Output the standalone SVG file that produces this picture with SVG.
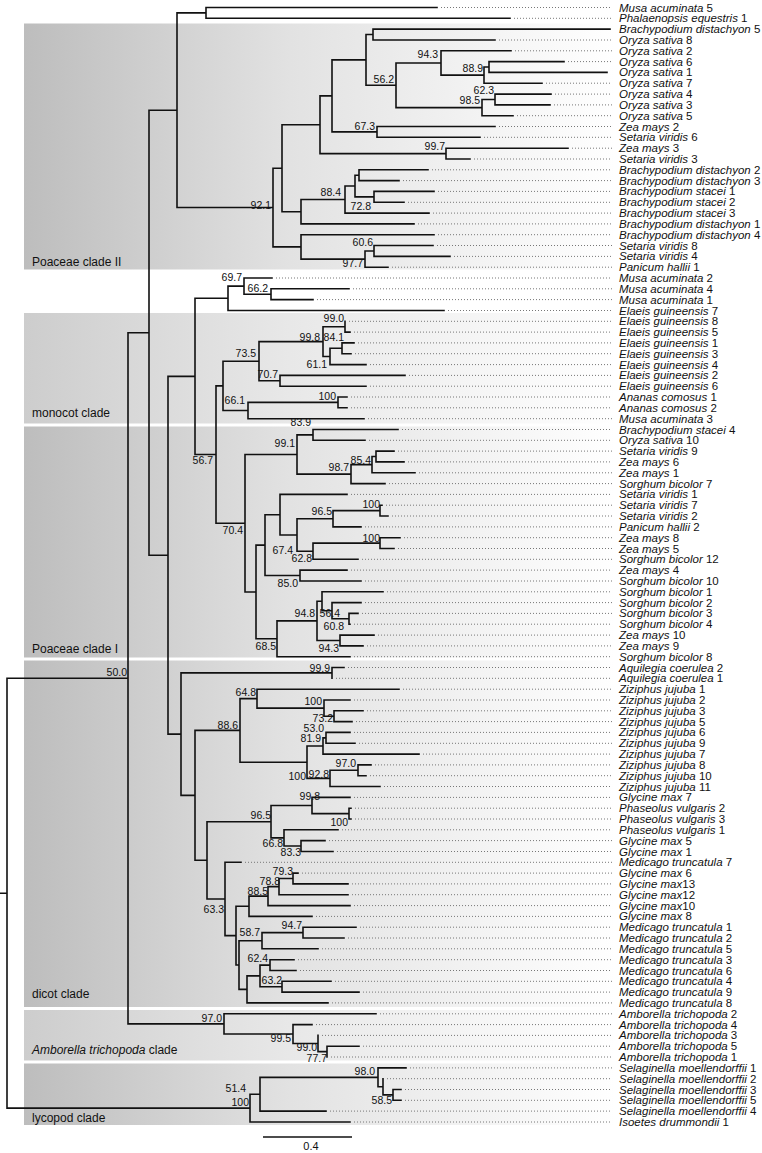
<svg xmlns="http://www.w3.org/2000/svg" width="762" height="1153" viewBox="0 0 762 1153">
<style>
.t{stroke:#111;stroke-width:1.6;fill:none;stroke-linecap:square}
.d{stroke:#777;stroke-width:1;stroke-dasharray:1 2;fill:none}
text{font-family:"Liberation Sans",Arial,sans-serif;fill:#111}
.lf text{font-size:11.5px}
.i{font-style:italic}
.bs text{font-size:10.5px;text-anchor:end}
.cl text{font-size:12px}
.dk{fill:url(#grd)}
.lt{fill:url(#grl)}
</style>
<defs>
<linearGradient id="grd" gradientUnits="userSpaceOnUse" x1="24" y1="0" x2="615" y2="0">
<stop offset="0" stop-color="#bdbdbd"/>
<stop offset="0.45" stop-color="#e2e2e2"/>
<stop offset="1" stop-color="#ffffff"/>
</linearGradient>
<linearGradient id="grl" gradientUnits="userSpaceOnUse" x1="24" y1="0" x2="615" y2="0">
<stop offset="0" stop-color="#cdcdcd"/>
<stop offset="0.45" stop-color="#e8e8e8"/>
<stop offset="1" stop-color="#ffffff"/>
</linearGradient>
</defs>
<rect width="762" height="1153" fill="#fff"/>
<g id="clades">
<g id="clade-poaceae-II" class="cl"><rect class="dk" x="24" y="23.5" width="596" height="246"/><text x="32" y="266">Poaceae clade II</text></g>
<g id="clade-monocot" class="cl"><rect class="lt" x="24" y="313" width="596" height="110.5"/><text x="32" y="417">monocot clade</text></g>
<g id="clade-poaceae-I" class="cl"><rect class="dk" x="24" y="426.5" width="596" height="231"/><text x="32" y="653">Poaceae clade I</text></g>
<g id="clade-dicot" class="cl"><rect class="dk" x="24" y="660.5" width="596" height="346.5"/><text x="32" y="998">dicot clade</text></g>
<g id="clade-amborella" class="cl"><rect class="lt" x="24" y="1010" width="596" height="50.5"/><text x="32" y="1054"><tspan class="i">Amborella trichopoda</tspan> clade</text></g>
<g id="clade-lycopod" class="cl"><rect class="dk" x="24" y="1063.5" width="596" height="61.5"/><text x="32" y="1121.5">lycopod clade</text></g>
</g>
<g id="connectors">
<path class="d" d="M441 7.5H612M514 18.3H612M499 40H612M515 50.8H612M568 61.6H612M546 83.2H612M555 94.1H612M554 104.9H612M517 115.7H612M499 126.5H612M484 137.3H612M572 148.2H612M474 159H612M432 169.8H612M403 180.6H612M438 191.4H612M408 202.3H612M433 213.1H612M418 223.9H612M438 234.7H612M437 245.5H612M454 256.4H612M392 267.2H612M276 278H612M353 288.8H612M317 299.6H612M448 310.5H612M349 321.3H612M354 332.1H612M358 342.9H612M355 353.7H612M370 364.6H612M409 375.4H612M370 386.2H612M351 397H612M351 407.8H612M368 418.7H612M402 429.5H612M369 440.3H612M398 451.1H612M408 461.9H612M419 472.8H612M389 483.6H612M351 494.4H612M386 505.2H612M392 516H612M365 526.9H612M404 537.7H612M398 548.5H612M362 559.3H612M351 570.1H612M365 581H612M387 591.8H612M365 602.6H612M362 613.4H612M354 624.2H612M378 635.1H612M367 645.9H612M354 656.7H612M348 667.5H612M336 678.3H612M403 689.2H612M354 700H612M367 710.8H612M356 721.6H612M354 732.4H612M359 743.3H612M423 754.1H612M375 764.9H612M370 775.7H612M384 786.5H612M354 797.4H612M355 808.2H612M355 819H612M342 829.8H612M329 840.6H612M337 851.5H612M245 862.3H612M302 873.1H612M352 883.9H612M352 894.7H612M354 905.6H612M316 916.4H612M360 927.2H612M348 938H612M322 948.8H612M298 959.7H612M300 970.5H612M335 981.3H612M363 992.1H612M332 1002.9H612M380 1013.8H612M316 1024.6H612M322 1035.4H612M363 1046.2H612M331 1057H612M410 1067.9H612M387 1078.7H612M405 1089.5H612M405 1100.3H612M330 1111.1H612M354 1122H612"/>
<path class="t" d="M0 893.2H7M7 678.3V1108.1M7 678.3H128M7 1108.1H250
M128 332.7V1023.9M128 332.7H149M128 1023.9H224
M149 110.2V555.25M149 110.2H177M149 555.25H168
M177 12.9V207.55M177 12.9H206M177 207.55H273
M206 7.5V18.3M206 7.5H437M206 18.3H510
M273 168.2V246.9M273 168.2H282M273 246.9H301
M282 124.75V211.7M282 124.75H320M282 211.7H301
M320 95.9V153.6M320 95.9H332M320 153.6H446
M332 59.9V131.9M332 59.9H366M332 131.9H377
M366 34.55V85.3M366 34.55H373M366 85.3H396
M373 29.1V40M373 29.1H610M373 40H495
M396 62.95V107.6M396 62.95H441M396 107.6H482
M441 50.8V75.1M441 50.8H511M441 75.1H484
M484 67V83.2M484 67H489M484 83.2H542
M489 61.6V72.4M489 61.6H564M489 72.4H607
M482 99.5V115.7M482 99.5H495M482 115.7H513
M495 94.1V104.9M495 94.1H551M495 104.9H550
M377 126.5V137.3M377 126.5H495M377 137.3H480
M446 148.2V159M446 148.2H568M446 159H470
M301 199.55V223.9M301 199.55H345M301 223.9H414
M345 186V213.1M345 186H355M345 213.1H429
M355 175.2V196.85M355 175.2H359M355 196.85H374
M359 169.8V180.6M359 169.8H428M359 180.6H399
M374 191.4V202.3M374 191.4H434M374 202.3H404
M301 234.7V259.1M301 234.7H434M301 259.1H365
M365 250.95V267.2M365 250.95H374M365 267.2H388
M374 245.5V256.4M374 245.5H433M374 256.4H450
M168 376.4V734.1M168 376.4H195M168 734.1H181
M195 298.3V454.55M195 298.3H228M195 454.55H216
M228 286.1V310.5M228 286.1H244M228 310.5H444
M244 278V294.2M244 278H272M244 294.2H271
M271 288.8V299.6M271 288.8H349M271 299.6H313
M216 385.9V523.2M216 385.9H223M216 523.2H245
M223 361.2V410.55M223 361.2H259M223 410.55H248
M259 341.6V380.8M259 341.6H323M259 380.8H280
M323 326.7V356.45M323 326.7H345M323 356.45H330
M345 321.3V332.1M345 332.1H350
M330 348.3V364.6M330 348.3H342M330 364.6H366
M342 342.9V353.7M342 342.9H354M342 353.7H351
M280 375.4V386.2M280 375.4H405M280 386.2H366
M248 402.4V418.7M248 402.4H338M248 418.7H364
M338 397V407.8M338 397H347M338 407.8H347
M245 454.5V591.95M245 454.5H297M245 591.95H256
M297 434.9V474.1M297 434.9H313M297 474.1H351
M313 429.5V440.3M313 429.5H398M313 440.3H365
M351 464.65V483.6M351 464.65H372M351 483.6H385
M372 456.5V472.8M372 456.5H376M372 472.8H415
M376 451.1V461.9M376 451.1H394M376 461.9H404
M256 545.1V638.8M256 545.1H265M256 638.8H277
M265 514.7V575.55M265 514.7H280M265 575.55H300
M280 494.4V535M280 494.4H347M280 535H297
M297 518.75V551.2M297 518.75H333M297 551.2H313
M333 510.6V526.9M333 510.6H380M333 526.9H361
M380 505.2V516M380 505.2H382M380 516H388
M313 543.1V559.3M313 543.1H380M313 559.3H358
M380 537.7V548.5M380 537.7H400M380 548.5H394
M300 570.1V581M300 570.1H347M300 581H361
M277 620.9V656.7M277 620.9H317M277 656.7H350
M317 601.25V640.5M317 601.25H322M317 640.5H340
M322 591.8V610.7M322 591.8H383M322 610.7H332
M332 602.6V618.8M332 602.6H361M332 618.8H349
M349 613.4V624.2M349 613.4H358M349 624.2H350
M340 635.1V645.9M340 635.1H374M340 645.9H363
M181 672.9V795.35M181 672.9H332M181 795.35H195
M332 667.5V678.3M332 667.5H344
M195 730.4V860.3M195 730.4H240M195 860.3H207
M240 698.65V762.2M240 698.65H257M240 762.2H307
M257 689.2V708.1M257 689.2H399M257 708.1H324
M324 700V716.2M324 700H350M324 716.2H334
M334 710.8V721.6M334 710.8H363M334 721.6H352
M307 745.95V778.4M307 745.95H323M307 778.4H330
M323 737.85V754.1M323 737.85H326M323 754.1H419
M326 732.4V743.3M326 732.4H350M326 743.3H355
M330 770.3V786.5M330 770.3H358M330 786.5H380
M358 764.9V775.7M358 764.9H371M358 775.7H366
M207 821.7V898.95M207 821.7H271M207 898.95H225
M271 805.5V837.9M271 805.5H312M271 837.9H284
M312 797.4V813.6M312 797.4H350M312 813.6H349
M349 808.2V819M349 808.2H351M349 819H351
M284 829.8V846.05M284 829.8H338M284 846.05H301
M301 840.6V851.5M301 840.6H325M301 851.5H333
M225 862.3V935.65M225 862.3H241M225 935.65H236
M236 906.25V965.05M236 906.25H249M236 965.05H239
M249 896.1V916.4M249 896.1H268M249 916.4H312
M268 886.6V905.6M268 886.6H279M268 905.6H350
M279 878.5V894.7M279 878.5H293M279 894.7H348
M293 873.1V883.9M293 873.1H298M293 883.9H348
M239 940.7V989.4M239 940.7H262M239 989.4H247
M262 932.6V948.8M262 932.6H303M262 948.8H318
M303 927.2V938M303 927.2H356M303 938H344
M247 975.9V1002.9M247 975.9H260M247 1002.9H328
M260 965.1V986.7M260 965.1H270M260 986.7H282
M270 959.7V970.5M270 959.7H294M270 970.5H296
M282 981.3V992.1M282 981.3H331M282 992.1H359
M224 1013.8V1034.05M224 1013.8H376M224 1034.05H293
M293 1024.6V1043.5M293 1024.6H312M293 1043.5H318
M318 1035.4V1051.6M318 1051.6H327
M327 1046.2V1057M327 1046.2H359
M250 1094.2V1122M250 1094.2H260M250 1122H350
M260 1077.35V1111.1M260 1077.35H378M260 1111.1H326
M378 1067.9V1086.8M378 1067.9H406M378 1086.8H383
M383 1078.7V1094.9M383 1094.9H393
M393 1089.5V1100.3M393 1089.5H401M393 1100.3H401"/>
</g>
<g id="support" class="bs">
<g id="n94-3a"><text x="438" y="58">94.3</text></g>
<g id="n88-9"><text x="483" y="72">88.9</text></g>
<g id="n56-2"><text x="394" y="83">56.2</text></g>
<g id="n62-3"><text x="494" y="94">62.3</text></g>
<g id="n98-5"><text x="480" y="104">98.5</text></g>
<g id="n67-3"><text x="375" y="130">67.3</text></g>
<g id="n99-7"><text x="445" y="150">99.7</text></g>
<g id="n88-4"><text x="341" y="196">88.4</text></g>
<g id="n92-1"><text x="271" y="209">92.1</text></g>
<g id="n72-8"><text x="371" y="210">72.8</text></g>
<g id="n60-6"><text x="373" y="246">60.6</text></g>
<g id="n97-7"><text x="363" y="267">97.7</text></g>
<g id="n69-7"><text x="242" y="281">69.7</text></g>
<g id="n66-2"><text x="268" y="292">66.2</text></g>
<g id="n99-0a"><text x="344" y="322">99.0</text></g>
<g id="n99-8a"><text x="320" y="341">99.8</text></g>
<g id="n84-1"><text x="344" y="341">84.1</text></g>
<g id="n73-5"><text x="256" y="357">73.5</text></g>
<g id="n61-1"><text x="327" y="368">61.1</text></g>
<g id="n70-7"><text x="278" y="378">70.7</text></g>
<g id="n100a"><text x="336" y="400">100</text></g>
<g id="n66-1"><text x="245" y="404">66.1</text></g>
<g id="n83-9"><text x="311" y="426">83.9</text></g>
<g id="n99-1"><text x="295" y="447">99.1</text></g>
<g id="n56-7"><text x="213" y="464">56.7</text></g>
<g id="n85-4"><text x="371" y="464">85.4</text></g>
<g id="n98-7"><text x="349" y="471">98.7</text></g>
<g id="n100b"><text x="380" y="508">100</text></g>
<g id="n96-5a"><text x="332" y="515">96.5</text></g>
<g id="n70-4"><text x="243" y="534">70.4</text></g>
<g id="n100c"><text x="380" y="542">100</text></g>
<g id="n67-4"><text x="293" y="554">67.4</text></g>
<g id="n62-8"><text x="312" y="562">62.8</text></g>
<g id="n85-0"><text x="298" y="587">85.0</text></g>
<g id="n94-8"><text x="315" y="617">94.8</text></g>
<g id="n56-4"><text x="340" y="617">56.4</text></g>
<g id="n60-8"><text x="344" y="630">60.8</text></g>
<g id="n68-5"><text x="276" y="650">68.5</text></g>
<g id="n94-3b"><text x="339" y="652">94.3</text></g>
<g id="n50-0"><text x="127" y="676">50.0</text></g>
<g id="n99-9"><text x="330" y="672">99.9</text></g>
<g id="n64-8"><text x="256" y="696">64.8</text></g>
<g id="n100d"><text x="322" y="705">100</text></g>
<g id="n73-2"><text x="333" y="722">73.2</text></g>
<g id="n88-6"><text x="238" y="729">88.6</text></g>
<g id="n53-0"><text x="324" y="732">53.0</text></g>
<g id="n81-9"><text x="321" y="742">81.9</text></g>
<g id="n97-0a"><text x="356" y="767">97.0</text></g>
<g id="n100e"><text x="306" y="780">100</text></g>
<g id="n92-8"><text x="329" y="778">92.8</text></g>
<g id="n99-8b"><text x="320" y="800">99.8</text></g>
<g id="n96-5b"><text x="271" y="819">96.5</text></g>
<g id="n100f"><text x="348" y="826">100</text></g>
<g id="n66-8"><text x="283" y="847">66.8</text></g>
<g id="n83-3"><text x="301" y="856">83.3</text></g>
<g id="n79-3"><text x="293" y="875">79.3</text></g>
<g id="n78-8"><text x="280" y="885">78.8</text></g>
<g id="n88-5"><text x="268" y="895">88.5</text></g>
<g id="n63-3"><text x="224" y="913">63.3</text></g>
<g id="n94-7"><text x="302" y="929">94.7</text></g>
<g id="n58-7"><text x="260" y="936">58.7</text></g>
<g id="n62-4"><text x="268" y="962">62.4</text></g>
<g id="n63-2"><text x="282" y="984">63.2</text></g>
<g id="n97-0b"><text x="222" y="1022">97.0</text></g>
<g id="n99-5"><text x="291" y="1042">99.5</text></g>
<g id="n99-0b"><text x="317" y="1050.5">99.0</text></g>
<g id="n77-7"><text x="327" y="1061.5">77.7</text></g>
<g id="n98-0"><text x="375" y="1075">98.0</text></g>
<g id="n51-4"><text x="246" y="1092">51.4</text></g>
<g id="n58-5"><text x="392" y="1104">58.5</text></g>
<g id="n100g"><text x="249" y="1106">100</text></g>
</g>
<g id="leaves" class="lf">
<g id="leaf001"><text x="619" y="11.5"><tspan class="i">Musa acuminata</tspan> 5</text></g>
<g id="leaf002"><text x="619" y="22.3"><tspan class="i">Phalaenopsis equestris</tspan> 1</text></g>
<g id="leaf003"><text x="619" y="33.1"><tspan class="i">Brachypodium distachyon</tspan> 5</text></g>
<g id="leaf004"><text x="619" y="44"><tspan class="i">Oryza sativa</tspan> 8</text></g>
<g id="leaf005"><text x="619" y="54.8"><tspan class="i">Oryza sativa</tspan> 2</text></g>
<g id="leaf006"><text x="619" y="65.6"><tspan class="i">Oryza sativa</tspan> 6</text></g>
<g id="leaf007"><text x="619" y="76.4"><tspan class="i">Oryza sativa</tspan> 1</text></g>
<g id="leaf008"><text x="619" y="87.2"><tspan class="i">Oryza sativa</tspan> 7</text></g>
<g id="leaf009"><text x="619" y="98.1"><tspan class="i">Oryza sativa</tspan> 4</text></g>
<g id="leaf010"><text x="619" y="108.9"><tspan class="i">Oryza sativa</tspan> 3</text></g>
<g id="leaf011"><text x="619" y="119.7"><tspan class="i">Oryza sativa</tspan> 5</text></g>
<g id="leaf012"><text x="619" y="130.5"><tspan class="i">Zea mays</tspan> 2</text></g>
<g id="leaf013"><text x="619" y="141.3"><tspan class="i">Setaria viridis</tspan> 6</text></g>
<g id="leaf014"><text x="619" y="152.2"><tspan class="i">Zea mays</tspan> 3</text></g>
<g id="leaf015"><text x="619" y="163"><tspan class="i">Setaria viridis</tspan> 3</text></g>
<g id="leaf016"><text x="619" y="173.8"><tspan class="i">Brachypodium distachyon</tspan> 2</text></g>
<g id="leaf017"><text x="619" y="184.6"><tspan class="i">Brachypodium distachyon</tspan> 3</text></g>
<g id="leaf018"><text x="619" y="195.4"><tspan class="i">Brachypodium stacei</tspan> 1</text></g>
<g id="leaf019"><text x="619" y="206.3"><tspan class="i">Brachypodium stacei</tspan> 2</text></g>
<g id="leaf020"><text x="619" y="217.1"><tspan class="i">Brachypodium stacei</tspan> 3</text></g>
<g id="leaf021"><text x="619" y="227.9"><tspan class="i">Brachypodium distachyon</tspan> 1</text></g>
<g id="leaf022"><text x="619" y="238.7"><tspan class="i">Brachypodium distachyon</tspan> 4</text></g>
<g id="leaf023"><text x="619" y="249.5"><tspan class="i">Setaria viridis</tspan> 8</text></g>
<g id="leaf024"><text x="619" y="260.4"><tspan class="i">Setaria viridis</tspan> 4</text></g>
<g id="leaf025"><text x="619" y="271.2"><tspan class="i">Panicum hallii</tspan> 1</text></g>
<g id="leaf026"><text x="619" y="282"><tspan class="i">Musa acuminata</tspan> 2</text></g>
<g id="leaf027"><text x="619" y="292.8"><tspan class="i">Musa acuminata</tspan> 4</text></g>
<g id="leaf028"><text x="619" y="303.6"><tspan class="i">Musa acuminata</tspan> 1</text></g>
<g id="leaf029"><text x="619" y="314.5"><tspan class="i">Elaeis guineensis</tspan> 7</text></g>
<g id="leaf030"><text x="619" y="325.3"><tspan class="i">Elaeis guineensis</tspan> 8</text></g>
<g id="leaf031"><text x="619" y="336.1"><tspan class="i">Elaeis guineensis</tspan> 5</text></g>
<g id="leaf032"><text x="619" y="346.9"><tspan class="i">Elaeis guineensis</tspan> 1</text></g>
<g id="leaf033"><text x="619" y="357.7"><tspan class="i">Elaeis guineensis</tspan> 3</text></g>
<g id="leaf034"><text x="619" y="368.6"><tspan class="i">Elaeis guineensis</tspan> 4</text></g>
<g id="leaf035"><text x="619" y="379.4"><tspan class="i">Elaeis guineensis</tspan> 2</text></g>
<g id="leaf036"><text x="619" y="390.2"><tspan class="i">Elaeis guineensis</tspan> 6</text></g>
<g id="leaf037"><text x="619" y="401"><tspan class="i">Ananas comosus</tspan> 1</text></g>
<g id="leaf038"><text x="619" y="411.8"><tspan class="i">Ananas comosus</tspan> 2</text></g>
<g id="leaf039"><text x="619" y="422.7"><tspan class="i">Musa acuminata</tspan> 3</text></g>
<g id="leaf040"><text x="619" y="433.5"><tspan class="i">Brachypodium stacei</tspan> 4</text></g>
<g id="leaf041"><text x="619" y="444.3"><tspan class="i">Oryza sativa</tspan> 10</text></g>
<g id="leaf042"><text x="619" y="455.1"><tspan class="i">Setaria viridis</tspan> 9</text></g>
<g id="leaf043"><text x="619" y="465.9"><tspan class="i">Zea mays</tspan> 6</text></g>
<g id="leaf044"><text x="619" y="476.8"><tspan class="i">Zea mays</tspan> 1</text></g>
<g id="leaf045"><text x="619" y="487.6"><tspan class="i">Sorghum bicolor</tspan> 7</text></g>
<g id="leaf046"><text x="619" y="498.4"><tspan class="i">Setaria viridis</tspan> 1</text></g>
<g id="leaf047"><text x="619" y="509.2"><tspan class="i">Setaria viridis</tspan> 7</text></g>
<g id="leaf048"><text x="619" y="520"><tspan class="i">Setaria viridis</tspan> 2</text></g>
<g id="leaf049"><text x="619" y="530.9"><tspan class="i">Panicum hallii</tspan> 2</text></g>
<g id="leaf050"><text x="619" y="541.7"><tspan class="i">Zea mays</tspan> 8</text></g>
<g id="leaf051"><text x="619" y="552.5"><tspan class="i">Zea mays</tspan> 5</text></g>
<g id="leaf052"><text x="619" y="563.3"><tspan class="i">Sorghum bicolor</tspan> 12</text></g>
<g id="leaf053"><text x="619" y="574.1"><tspan class="i">Zea mays</tspan> 4</text></g>
<g id="leaf054"><text x="619" y="585"><tspan class="i">Sorghum bicolor</tspan> 10</text></g>
<g id="leaf055"><text x="619" y="595.8"><tspan class="i">Sorghum bicolor</tspan> 1</text></g>
<g id="leaf056"><text x="619" y="606.6"><tspan class="i">Sorghum bicolor</tspan> 2</text></g>
<g id="leaf057"><text x="619" y="617.4"><tspan class="i">Sorghum bicolor</tspan> 3</text></g>
<g id="leaf058"><text x="619" y="628.2"><tspan class="i">Sorghum bicolor</tspan> 4</text></g>
<g id="leaf059"><text x="619" y="639.1"><tspan class="i">Zea mays</tspan> 10</text></g>
<g id="leaf060"><text x="619" y="649.9"><tspan class="i">Zea mays</tspan> 9</text></g>
<g id="leaf061"><text x="619" y="660.7"><tspan class="i">Sorghum bicolor</tspan> 8</text></g>
<g id="leaf062"><text x="619" y="671.5"><tspan class="i">Aquilegia coerulea</tspan> 2</text></g>
<g id="leaf063"><text x="619" y="682.3"><tspan class="i">Aquilegia coerulea</tspan> 1</text></g>
<g id="leaf064"><text x="619" y="693.2"><tspan class="i">Ziziphus jujuba</tspan> 1</text></g>
<g id="leaf065"><text x="619" y="704"><tspan class="i">Ziziphus jujuba</tspan> 2</text></g>
<g id="leaf066"><text x="619" y="714.8"><tspan class="i">Ziziphus jujuba</tspan> 3</text></g>
<g id="leaf067"><text x="619" y="725.6"><tspan class="i">Ziziphus jujuba</tspan> 5</text></g>
<g id="leaf068"><text x="619" y="736.4"><tspan class="i">Ziziphus jujuba</tspan> 6</text></g>
<g id="leaf069"><text x="619" y="747.3"><tspan class="i">Ziziphus jujuba</tspan> 9</text></g>
<g id="leaf070"><text x="619" y="758.1"><tspan class="i">Ziziphus jujuba</tspan> 7</text></g>
<g id="leaf071"><text x="619" y="768.9"><tspan class="i">Ziziphus jujuba</tspan> 8</text></g>
<g id="leaf072"><text x="619" y="779.7"><tspan class="i">Ziziphus jujuba</tspan> 10</text></g>
<g id="leaf073"><text x="619" y="790.5"><tspan class="i">Ziziphus jujuba</tspan> 11</text></g>
<g id="leaf074"><text x="619" y="801.4"><tspan class="i">Glycine max</tspan> 7</text></g>
<g id="leaf075"><text x="619" y="812.2"><tspan class="i">Phaseolus vulgaris</tspan> 2</text></g>
<g id="leaf076"><text x="619" y="823"><tspan class="i">Phaseolus vulgaris</tspan> 3</text></g>
<g id="leaf077"><text x="619" y="833.8"><tspan class="i">Phaseolus vulgaris</tspan> 1</text></g>
<g id="leaf078"><text x="619" y="844.6"><tspan class="i">Glycine max</tspan> 5</text></g>
<g id="leaf079"><text x="619" y="855.5"><tspan class="i">Glycine max</tspan> 1</text></g>
<g id="leaf080"><text x="619" y="866.3"><tspan class="i">Medicago truncatula</tspan> 7</text></g>
<g id="leaf081"><text x="619" y="877.1"><tspan class="i">Glycine max</tspan> 6</text></g>
<g id="leaf082"><text x="619" y="887.9"><tspan class="i">Glycine max</tspan>13</text></g>
<g id="leaf083"><text x="619" y="898.7"><tspan class="i">Glycine max</tspan>12</text></g>
<g id="leaf084"><text x="619" y="909.6"><tspan class="i">Glycine max</tspan>10</text></g>
<g id="leaf085"><text x="619" y="920.4"><tspan class="i">Glycine max</tspan> 8</text></g>
<g id="leaf086"><text x="619" y="931.2"><tspan class="i">Medicago truncatula</tspan> 1</text></g>
<g id="leaf087"><text x="619" y="942"><tspan class="i">Medicago truncatula</tspan> 2</text></g>
<g id="leaf088"><text x="619" y="952.8"><tspan class="i">Medicago truncatula</tspan> 5</text></g>
<g id="leaf089"><text x="619" y="963.7"><tspan class="i">Medicago truncatula</tspan> 3</text></g>
<g id="leaf090"><text x="619" y="974.5"><tspan class="i">Medicago truncatula</tspan> 6</text></g>
<g id="leaf091"><text x="619" y="985.3"><tspan class="i">Medicago truncatula</tspan> 4</text></g>
<g id="leaf092"><text x="619" y="996.1"><tspan class="i">Medicago truncatula</tspan> 9</text></g>
<g id="leaf093"><text x="619" y="1006.9"><tspan class="i">Medicago truncatula</tspan> 8</text></g>
<g id="leaf094"><text x="619" y="1017.8"><tspan class="i">Amborella trichopoda</tspan> 2</text></g>
<g id="leaf095"><text x="619" y="1028.6"><tspan class="i">Amborella trichopoda</tspan> 4</text></g>
<g id="leaf096"><text x="619" y="1039.4"><tspan class="i">Amborella trichopoda</tspan> 3</text></g>
<g id="leaf097"><text x="619" y="1050.2"><tspan class="i">Amborella trichopoda</tspan> 5</text></g>
<g id="leaf098"><text x="619" y="1061"><tspan class="i">Amborella trichopoda</tspan> 1</text></g>
<g id="leaf099"><text x="619" y="1071.9"><tspan class="i">Selaginella moellendorffii</tspan> 1</text></g>
<g id="leaf100"><text x="619" y="1082.7"><tspan class="i">Selaginella moellendorffii</tspan> 2</text></g>
<g id="leaf101"><text x="619" y="1093.5"><tspan class="i">Selaginella moellendorffii</tspan> 3</text></g>
<g id="leaf102"><text x="619" y="1104.3"><tspan class="i">Selaginella moellendorffii</tspan> 5</text></g>
<g id="leaf103"><text x="619" y="1115.1"><tspan class="i">Selaginella moellendorffii</tspan> 4</text></g>
<g id="leaf104"><text x="619" y="1126"><tspan class="i">Isoetes drummondii</tspan> 1</text></g>
</g>
<g id="scale-bar">
<path d="M263 1137H352" stroke="#111" stroke-width="1.6"/>
<text x="311" y="1150" font-size="11" text-anchor="middle">0.4</text>
</g>
</svg>
